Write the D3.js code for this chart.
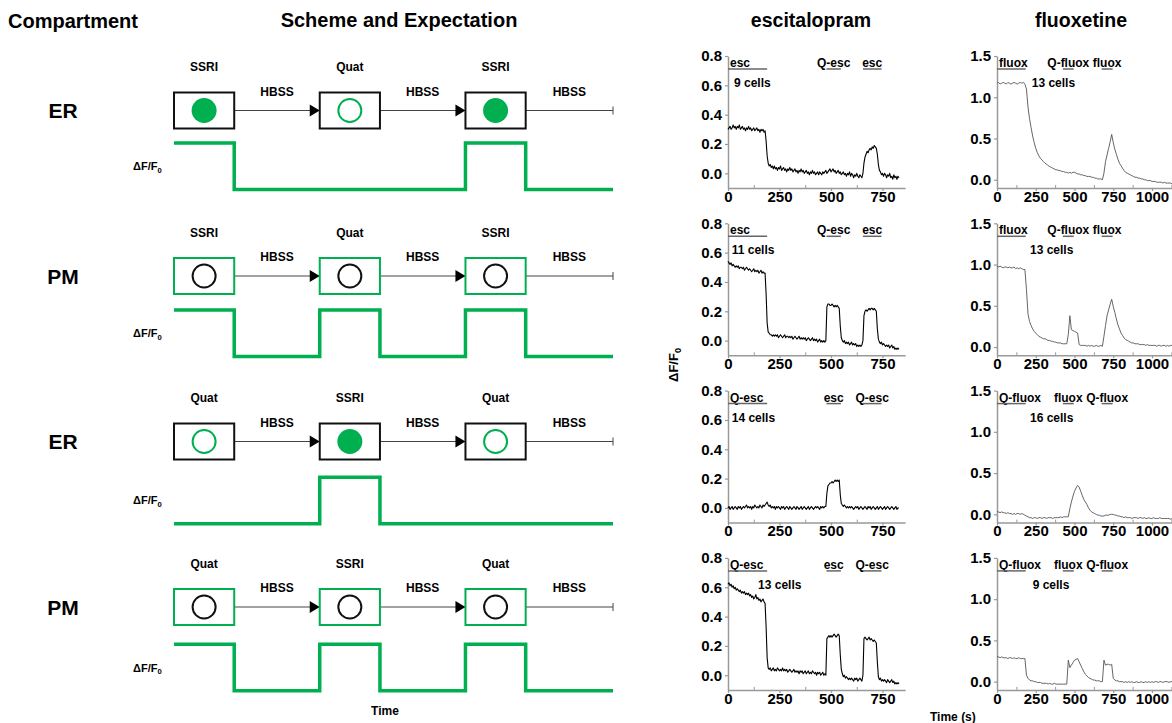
<!DOCTYPE html>
<html><head><meta charset="utf-8">
<script src="https://cdn.jsdelivr.net/npm/d3@7"></script>
<style>body{margin:0;background:#fff}svg text{font-family:Arial,"Liberation Sans",sans-serif}</style>
</head><body><svg id="c" width="1172" height="723"></svg>
<script>
// ---------------- DATA ----------------
const compartments = ["ER", "PM", "ER", "PM"];
const treatments = [["SSRI","Quat","SSRI"],["SSRI","Quat","SSRI"],["Quat","SSRI","Quat"],["Quat","SSRI","Quat"]];
const washLabel = "HBSS";
// expected ΔF/F0 level per phase (box, wash, box, wash, box, wash)
const expected = [[1,0,0,0,1,0],[1,0,1,0,1,0],[0,0,1,0,0,0],[1,0,1,0,1,0]];
const phaseUnits = [1, 1.42, 1, 1.42, 1, 1.45];

const escStep = 5;   // s between samples
const escER1 = [
.30,.31,.32,.30,.31,.33,.31,.32,.30,.32,.31,.33,.30,.31,.32,.30,.31,.29,.31,.30,
.32,.30,.31,.29,.30,.31,.29,.30,.31,.29,.30,.28,.30,.29,.30,.28,.29,.22,.12,.07,
.05,.06,.04,.05,.03,.05,.03,.04,.02,.04,.03,.05,.02,.03,.04,.02,.03,.01,.03,.02,
.04,.02,.03,.01,.02,.03,.01,.02,.00,.02,.01,.03,.01,.02,.00,.01,.02,.00,.01,-.01,
.01,.00,.02,.00,.01,-.01,.00,.01,-.01,.01,.00,-.01,.01,.00,.01,.02,.00,.01,.02,.03,
.01,.02,.03,.01,.02,.00,.01,.02,.00,.01,-.01,.00,.01,-.01,.00,-.02,.00,-.01,.01,-.02,
.00,-.01,-.03,-.01,-.02,.00,-.02,-.03,-.01,-.02,-.03,.00,.07,.11,.13,.15,.14,.16,.17,.16,
.18,.17,.19,.18,.17,.13,.06,.02,.01,-.01,.00,-.02,.00,-.01,-.03,-.01,-.02,.00,-.03,-.02,
-.04,-.01,-.03,-.02,-.04,-.02,-.03];
const escPM1 = [
.54,.53,.52,.53,.51,.52,.51,.50,.51,.50,.51,.49,.50,.50,.49,.50,.48,.49,.50,.49,
.48,.49,.48,.47,.48,.49,.47,.48,.47,.48,.46,.47,.48,.46,.47,.46,.46,.32,.12,.06,
.05,.04,.04,.03,.04,.03,.04,.03,.04,.02,.03,.04,.03,.02,.03,.04,.02,.03,.03,.02,
.03,.02,.03,.01,.02,.03,.02,.01,.02,.03,.01,.02,.01,.02,.01,.02,.00,.01,.02,.01,
.00,.01,.02,.00,.01,.00,.01,-.01,.00,.01,-.01,.00,-.01,.00,-.01,.00,.23,.25,.25,.24,
.24,.25,.24,.23,.24,.23,.24,.23,.22,.10,.02,.00,-.01,.00,-.02,-.01,-.02,-.01,-.03,-.02,
-.01,-.03,-.02,-.03,-.02,-.04,-.03,-.04,-.03,-.04,-.03,.00,.17,.20,.21,.20,.21,.22,.21,.22,
.22,.21,.22,.21,.20,.08,.01,-.01,-.02,-.01,-.03,-.02,-.03,-.04,-.03,-.04,-.03,-.05,-.04,-.03,
-.05,-.04,-.06,-.05,-.06,-.05,-.06];
const escER2 = [
.00,.01,-.01,.00,.01,-.01,.00,.01,.00,-.01,.01,.00,.01,-.01,.00,.01,.00,.01,.02,.00,
.01,.00,.01,-.01,.01,.00,.02,.01,.00,.01,.00,.02,.01,.00,.02,.01,.02,.03,.04,.02,
.01,.02,.00,.01,.00,.01,-.01,.01,.00,.01,.00,-.01,.01,.00,.01,-.01,.00,.01,.00,-.01,
.01,.00,-.01,.00,.01,.00,-.01,.01,.00,-.01,.00,.01,-.01,.00,.01,.00,-.01,.00,.01,-.01,
.00,.01,.00,-.01,.00,.01,.00,.01,.00,-.01,.01,.00,.01,.00,.01,.01,.10,.15,.16,.17,
.17,.18,.17,.18,.19,.18,.19,.18,.19,.09,.03,.02,.01,.02,.01,.00,.01,.00,.01,.00,
.01,.00,-.01,.00,.01,.00,.01,-.01,.00,.01,.00,-.01,.00,.01,.00,-.01,.01,.00,.01,-.01,
.00,.01,.00,-.01,.00,.01,-.01,.00,.01,.00,-.01,.00,.01,-.01,.00,.01,.00,-.01,.00,.01,
.00,-.01,.00,.01,-.01,.00,.00];
const escPM2 = [
.62,.63,.61,.62,.60,.61,.59,.60,.58,.59,.58,.57,.58,.56,.57,.56,.57,.55,.56,.55,
.56,.54,.55,.53,.54,.52,.53,.55,.52,.53,.51,.52,.50,.51,.52,.50,.49,.33,.12,.05,
.04,.05,.03,.04,.05,.03,.04,.03,.05,.04,.03,.04,.03,.05,.03,.04,.03,.04,.02,.03,
.04,.03,.02,.03,.04,.02,.03,.02,.03,.01,.03,.02,.03,.01,.02,.03,.01,.02,.03,.01,
.02,.01,.03,.02,.01,.02,.00,.02,.01,.02,.00,.01,.02,.00,.01,.00,.25,.26,.27,.26,
.27,.26,.27,.28,.27,.26,.27,.28,.27,.14,.04,.01,-.01,.00,-.02,-.01,-.02,-.03,-.02,-.03,
-.02,-.03,-.04,-.02,-.03,-.02,-.04,-.03,-.02,-.03,-.04,.00,.25,.26,.25,.24,.25,.26,.24,.25,
.24,.23,.24,.23,.22,.09,-.01,-.03,-.02,-.04,-.03,-.04,-.03,-.04,-.05,-.03,-.04,-.05,-.04,-.03,
-.05,-.04,-.06,-.05,-.06,-.05,-.06];

const fluoxStep = 10; // s between samples
const fluoxER1 = [
1.17,1.18,1.16,1.17,1.18,1.17,1.16,1.18,1.17,1.16,
1.17,1.18,1.17,1.16,1.17,1.18,1.17,1.18,1.16,1.10,
.88,.74,.63,.53,.45,.38,.33,.29,.26,.24,
.22,.20,.19,.17,.16,.15,.14,.13,.12,.12,
.11,.11,.10,.10,.09,.09,.08,.09,.08,.09,
.09,.08,.07,.07,.06,.06,.05,.05,.04,.04,
.04,.03,.03,.02,.02,.01,.01,.01,.00,.08,
.22,.30,.38,.46,.55,.45,.37,.31,.25,.20,
.17,.14,.11,.09,.08,.07,.06,.05,.04,.03,
.03,.02,.02,.01,.01,.00,.00,-.01,-.01,-.01,
-.02,-.02,-.02,-.03,-.03,-.03,-.03,-.04,-.03,-.04,
-.04,-.04,-.04,-.05,-.04,-.04];
const fluoxPM1 = [
.98,.97,.98,.97,.96,.97,.97,.96,.97,.96,
.96,.97,.95,.96,.95,.96,.95,.94,.94,.70,
.40,.31,.26,.22,.19,.17,.15,.13,.12,.11,
.10,.10,.09,.08,.08,.07,.07,.06,.06,.05,
.05,.05,.04,.04,.04,.04,.15,.38,.21,.20,
.19,.18,.17,.03,.02,.02,.02,.02,.01,.02,
.01,.02,.01,.01,.02,.01,.01,.02,.01,.13,
.26,.38,.45,.52,.58,.49,.42,.34,.27,.22,
.17,.14,.11,.09,.08,.07,.06,.05,.05,.04,
.04,.04,.03,.03,.03,.03,.02,.03,.02,.02,
.02,.02,.02,.01,.02,.02,.01,.02,.02,.01,
.02,.01,.02,.02,.01,.02];
const fluoxER2 = [
.03,.03,.02,.03,.02,.02,.01,.02,.01,.01,
.00,.01,.00,.01,.01,.00,.01,.00,-.01,-.02,
-.03,-.04,-.04,-.05,-.04,-.04,-.05,-.04,-.04,-.05,
-.04,-.04,-.05,-.04,-.04,-.04,-.05,-.04,-.04,-.04,
-.04,-.03,-.04,-.03,-.03,-.03,-.03,.07,.15,.22,
.28,.32,.35,.33,.28,.23,.18,.15,.12,.08,
.05,.03,.02,.01,.00,-.01,-.01,-.02,-.02,-.02,
-.01,-.01,-.01,.00,.00,.00,-.01,-.01,-.02,-.02,
-.03,-.03,-.04,-.03,-.04,-.04,-.04,-.05,-.04,-.04,
-.04,-.05,-.04,-.04,-.05,-.04,-.05,-.05,-.04,-.05,
-.05,-.04,-.05,-.05,-.05,-.04,-.05,-.05,-.05,-.05,
-.05,-.05,-.06,-.05,-.05,-.05];
const fluoxPM2 = [
.30,.30,.29,.30,.29,.29,.29,.28,.29,.29,
.28,.29,.28,.28,.29,.28,.28,.28,.28,.08,
.04,.02,.01,.01,.00,.00,-.01,-.01,-.01,-.02,
-.02,-.02,-.02,-.03,-.02,-.03,-.03,-.02,-.03,-.03,
-.03,-.03,-.03,-.03,-.03,-.03,.26,.17,.20,.23,
.26,.27,.28,.24,.20,.16,.12,.09,.07,.05,
.04,.03,.02,.02,.01,.01,.01,.00,.00,.26,
.20,.21,.21,.20,.21,.04,.02,.01,.01,.00,
.00,.00,-.01,.00,-.01,.00,-.01,.00,-.01,-.01,
.00,-.01,-.01,.00,-.01,-.01,.00,-.01,.00,-.01,
.00,-.01,.00,.00,-.01,.00,.00,-.01,.00,.00,
.00,-.01,.00,.00,.00,-.01];

const escSeries = [escER1, escPM1, escER2, escPM2];
const fluoxSeries = [fluoxER1, fluoxPM1, fluoxER2, fluoxPM2];
const escCells = ["9 cells", "11 cells", "14 cells", "13 cells"];
const escCellsAt = [29, 18, 18, 146];          // s
const fluoxCells = ["13 cells", "13 cells", "16 cells", "9 cells"];
const fluoxCellsAt = [224, 213, 213, 230];     // s
const escPeriods = [[0,190],[478,548],[655,745]];
const fluoxPeriods = [[0,185],[425,495],[675,746]];
const escLabels = [["esc","Q-esc","esc"],["esc","Q-esc","esc"],["Q-esc","esc","Q-esc"],["Q-esc","esc","Q-esc"]];
const fluoxLabels = [["fluox","Q-fluox","fluox"],["fluox","Q-fluox","fluox"],["Q-fluox","fluox","Q-fluox"],["Q-fluox","fluox","Q-fluox"]];
const escXTicks = [0,250,500,750], escXMinor = [125,375,625];
const fluoxXTicks = [0,250,500,750,1000], fluoxXMinor = [125,375,625,875,1125];
const escYTicks = [0,0.2,0.4,0.6,0.8];
const fluoxYTicks = [0,0.5,1.0,1.5];

// ---------------- DRAW ----------------
const svg = d3.select("#c");
const green = "#00b050";
const FONT = 'Arial,"Liberation Sans",sans-serif';

function txt(x, y, s, size, anchor, weight) {
  return svg.append("text").attr("x", x).attr("y", y).text(s)
    .attr("font-size", size).attr("font-weight", weight || "bold")
    .attr("text-anchor", anchor || "middle").attr("fill", "#000");
}
function dff(g, x, y, size, anchor) {
  const t = g.append("text").attr("x", x).attr("y", y).attr("font-size", size)
    .attr("font-weight", "bold").attr("text-anchor", anchor || "start").attr("fill", "#000");
  t.append("tspan").text("ΔF/F");
  t.append("tspan").text("0").attr("font-size", size * 0.7).attr("dy", size * 0.25);
  return t;
}

// headers
txt(73, 28, "Compartment", 20, "middle");
txt(399, 27, "Scheme and Expectation", 20, "middle");
txt(811, 27, "escitalopram", 19.5, "middle");
txt(1081, 27, "fluoxetine", 19.5, "middle");

// ---- scheme ----
const cum = [0];
phaseUnits.forEach(u => cum.push(cum[cum.length - 1] + u));
const sx = d3.scaleLinear().domain([0, cum[cum.length - 1]]).range([174, 613]);
compartments.forEach((comp, r) => {
  const boxTop = 92.5 + r * 165.5, boxH = 36, cy = boxTop + boxH / 2;
  const high = 143 + r * 167.1, low = high + 46.5;
  const isER = comp === "ER";
  txt(63, cy + 7.5, comp, 21, "middle");
  for (let i = 0; i < 3; i++) {
    const xa = sx(cum[2 * i + 1]), xb = sx(cum[2 * i + 2]);
    svg.append("line").attr("x1", xa).attr("x2", xb).attr("y1", cy).attr("y2", cy)
      .attr("stroke", "#444").attr("stroke-width", 1);
    if (i < 2) {
      svg.append("path").attr("d", `M${xb - 10},${cy - 6}L${xb},${cy}L${xb - 10},${cy + 6}Z`).attr("fill", "#000");
    } else {
      svg.append("line").attr("x1", xb).attr("x2", xb).attr("y1", cy - 4).attr("y2", cy + 4)
        .attr("stroke", "#444").attr("stroke-width", 1);
    }
    txt((xa + xb) / 2, boxTop + 3, washLabel, 12, "middle");
  }
  treatments[r].forEach((tr, i) => {
    const x0 = sx(cum[2 * i]), x1 = sx(cum[2 * i + 1]), xc = (x0 + x1) / 2;
    svg.append("rect").attr("x", x0).attr("y", boxTop).attr("width", x1 - x0).attr("height", boxH)
      .attr("fill", "#fff").attr("stroke", isER ? "#111" : green).attr("stroke-width", 2);
    const c = svg.append("circle").attr("cx", xc).attr("cy", cy).attr("r", isER && tr === "SSRI" ? 12.5 : 11.5);
    if (isER) {
      if (tr === "SSRI") c.attr("fill", green);
      else c.attr("fill", "#fff").attr("stroke", green).attr("stroke-width", 2);
    } else c.attr("fill", "#fff").attr("stroke", "#111").attr("stroke-width", 2);
    txt(xc, boxTop - 21.5, tr, 12, "middle");
  });
  const ly = d3.scaleLinear().domain([0, 1]).range([low, high]);
  const pts = expected[r].map((v, i) => [cum[i], v]);
  pts.push([cum[cum.length - 1], expected[r][expected[r].length - 1]]);
  svg.append("path").datum(pts)
    .attr("d", d3.line().x(d => sx(d[0])).y(d => ly(d[1])).curve(d3.curveStepAfter))
    .attr("fill", "none").attr("stroke", green).attr("stroke-width", 3.5);
  dff(svg, 133, (high + low) / 2 + 4, 11, "start");
});
txt(385, 715, "Time", 12, "middle");

// ---- plots ----
function panel(cfg) {
  const g = svg.append("g");
  const x = d3.scaleLinear().domain(cfg.xDomain).range([cfg.x0, cfg.x0 + (cfg.xDomain[1] - cfg.xDomain[0]) * cfg.pxPerS]);
  const y = d3.scaleLinear().domain(cfg.yDomain).range([cfg.top + cfg.h, cfg.top]);
  const base = cfg.top + cfg.h;
  const xa = g.append("g").attr("transform", `translate(0,${base})`)
    .call(d3.axisBottom(x).tickValues(cfg.xTicks).tickSize(3).tickPadding(0).tickSizeOuter(0).tickFormat(d3.format("d")));
  const xm = g.append("g").attr("transform", `translate(0,${base})`)
    .call(d3.axisBottom(x).tickValues(cfg.xMinor).tickSize(-3).tickFormat(""));
  xm.select(".domain").remove();
  xm.selectAll(".tick line").attr("stroke", "#999");
  const ya = g.append("g").attr("transform", `translate(${cfg.x0},0)`)
    .call(d3.axisLeft(y).tickValues(cfg.yTicks).tickSize(3).tickPadding(3).tickSizeOuter(0).tickFormat(d3.format(".1f")));
  [xa, ya].forEach(a => {
    a.attr("font-family", FONT);
    a.select(".domain").attr("stroke", "#999").attr("stroke-width", 1.5);
    a.selectAll(".tick line").attr("stroke", "#999").attr("stroke-width", 1.2);
    a.selectAll(".tick text").attr("font-size", 15).attr("font-weight", "bold").attr("fill", "#000");
  });
  const pts = cfg.values.map((v, i) => [i * cfg.step, v]);
  g.append("path").datum(pts).attr("d", d3.line().x(d => x(d[0])).y(d => y(d[1])))
    .attr("fill", "none").attr("stroke", cfg.color).attr("stroke-width", cfg.lw).attr("stroke-linejoin", "round");
  cfg.labels.forEach((lab, i) => {
    const [t0, t1] = cfg.periods[i];
    const t = g.append("text").attr("font-size", 12).attr("font-weight", "bold").attr("fill", "#000").text(lab)
      .attr("y", cfg.top + 11);
    if (i === 0) t.attr("x", x(t0) + 2).attr("text-anchor", "start");
    else t.attr("x", (x(t0) + x(t1)) / 2).attr("text-anchor", "middle");
    g.append("line").attr("x1", x(t0)).attr("x2", x(t1)).attr("y1", cfg.top + 13).attr("y2", cfg.top + 13)
      .attr("stroke", "#666").attr("stroke-width", 1.5);
  });
  g.append("text").attr("x", x(cfg.cellsAt)).attr("y", cfg.top + 31).attr("font-size", 12)
    .attr("font-weight", "bold").attr("fill", "#000").text(cfg.cells);
}

for (let r = 0; r < 4; r++) {
  const top = 56 + r * 167.3;
  panel({ top, h: 132, x0: 728, pxPerS: 0.206, xDomain: [0, 860], yDomain: [-0.1, 0.8],
    xTicks: escXTicks, xMinor: escXMinor, yTicks: escYTicks, values: escSeries[r], step: escStep,
    color: "#000", lw: 1.1, labels: escLabels[r], periods: escPeriods, cells: escCells[r], cellsAt: escCellsAt[r] });
  panel({ top, h: 132, x0: 997, pxPerS: 0.155, xDomain: [0, 1150], yDomain: [-0.1, 1.5],
    xTicks: fluoxXTicks, xMinor: fluoxXMinor, yTicks: fluoxYTicks, values: fluoxSeries[r], step: fluoxStep,
    color: "#555", lw: 0.9, labels: fluoxLabels[r], periods: fluoxPeriods, cells: fluoxCells[r], cellsAt: fluoxCellsAt[r] });
}
const yl = svg.append("g").attr("transform", "translate(678,365) rotate(-90)");
dff(yl, 0, 0, 13, "middle");
txt(930, 721, "Time (s)", 12, "start");
</script></body></html>
